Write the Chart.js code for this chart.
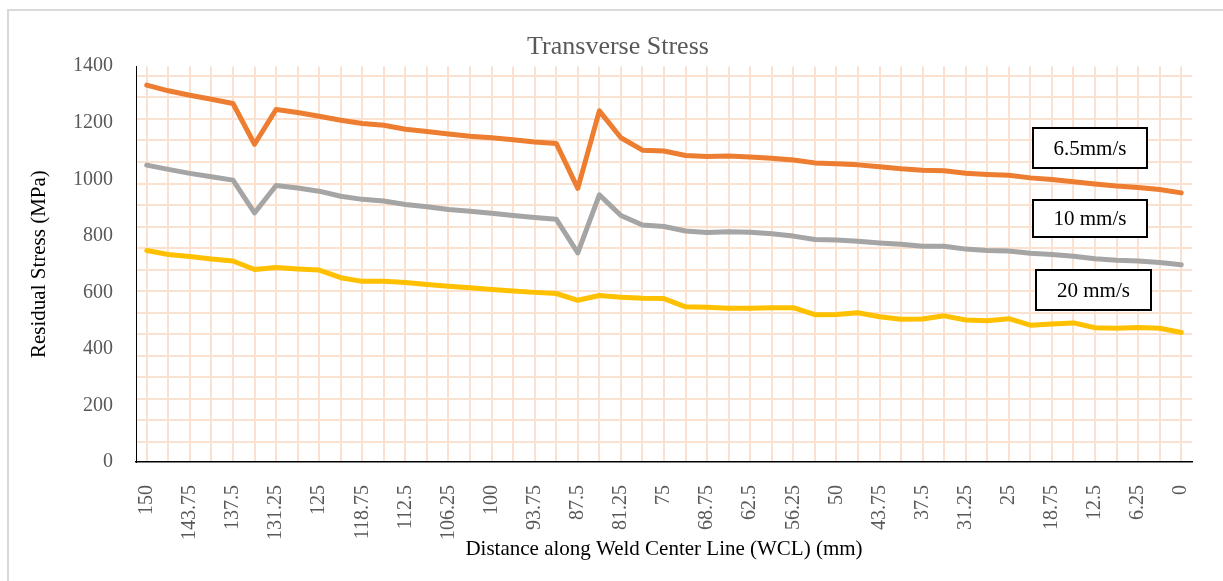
<!DOCTYPE html>
<html>
<head>
<meta charset="utf-8">
<script src="https://cdn.jsdelivr.net/npm/chart.js@4"></script>
<style>
  html, body { margin: 0; padding: 0; background: #fff; overflow: hidden; }
  #wrap { position: relative; width: 1223px; height: 581px; }
  #frame { position: absolute; left: 7px; top: 9px; width: 1400px; height: 800px; border: 2px solid #d9d9d9; box-sizing: border-box; }
  .tag { position: absolute; border: 2px solid #000; background: #fff; box-sizing: border-box;
         font-family: "Liberation Serif", "Times New Roman", serif; font-size: 21px; color: #000;
         display: flex; align-items: center; justify-content: center; }
</style>
</head>
<body>
<div id="wrap">
  <div id="frame"></div>
  <canvas id="chart"></canvas>
  <div class="tag" style="left:1032px;top:127px;width:116px;height:42px;">6.5mm/s</div>
  <div class="tag" style="left:1032px;top:199px;width:116px;height:39px;">10 mm/s</div>
  <div class="tag" style="left:1035px;top:269px;width:117px;height:42px;">20 mm/s</div>
</div>
<script>
// distance along weld centre line (mm), every 3.125 mm
const distances = [
  '150', '146.875', '143.75', '140.625', '137.5', '134.375', '131.25', '128.125', '125',
  '121.875', '118.75', '115.625', '112.5', '109.375', '106.25', '103.125', '100',
  '96.875', '93.75', '90.625', '87.5', '84.375', '81.25', '78.125', '75',
  '71.875', '68.75', '65.625', '62.5', '59.375', '56.25', '53.125', '50',
  '46.875', '43.75', '40.625', '37.5', '34.375', '31.25', '28.125', '25',
  '21.875', '18.75', '15.625', '12.5', '9.375', '6.25', '3.125', '0'
];

// labels actually printed under the axis
const tickLabels = [
  '150', '143.75', '137.5', '131.25', '125', '118.75', '112.5', '106.25', '100',
  '93.75', '87.5', '81.25', '75', '68.75', '62.5', '56.25', '50', '43.75',
  '37.5', '31.25', '25', '18.75', '12.5', '6.25', '0'
];

const yTicks = [0, 200, 400, 600, 800, 1000, 1200, 1400];

const speed65 = [
  1333, 1313, 1297, 1283, 1268, 1124, 1247, 1236, 1223, 1209, 1197, 1191, 1177,
  1169, 1160, 1152, 1147, 1140, 1132, 1127, 968, 1242, 1147, 1103, 1100,
  1084, 1081, 1082, 1079, 1074, 1068, 1058, 1055, 1051, 1044, 1037, 1032,
  1030, 1021, 1017, 1014, 1005, 999, 991, 983, 976, 971, 964, 952
];

const speed10 = [
  1050, 1035, 1021, 1009, 997, 881, 978, 969, 958, 940, 929, 923, 911,
  903, 893, 887, 880, 872, 865, 859, 740, 945, 872, 838, 833,
  817, 812, 814, 813, 807, 799, 787, 785, 781, 775, 770, 763,
  763, 753, 748, 746, 738, 734, 728, 719, 714, 711, 706, 698
];

const speed20 = [
  748, 734, 727, 718, 711, 681, 688, 683, 679, 652, 639, 639, 635,
  628, 622, 616, 610, 605, 600, 596, 572, 589, 583, 579, 578,
  549, 547, 544, 544, 546, 546, 521, 522, 528, 514, 505, 506,
  517, 502, 500, 507, 484, 488, 492, 475, 473, 476, 473, 458
];

const serif = '"Liberation Serif", "Times New Roman", serif';
const gridPeach = '#fbe1d0';

function series(label, data, color) {
  return {
    label: label,
    data: data,
    borderColor: color,
    backgroundColor: color,
    borderWidth: 5,
    pointRadius: 0,
    tension: 0,
    borderJoinStyle: 'round',
    borderCapStyle: 'round',
    yAxisID: 'y',
  };
}

new Chart(document.getElementById('chart'), {
  type: 'line',
  data: {
    labels: distances,
    datasets: [
      series('20 mm/s', speed20, '#ffc000'),
      series('10 mm/s', speed10, '#a5a5a5'),
      series('6.5mm/s', speed65, '#ed7d31'),
    ],
  },
  options: {
    responsive: true,
    maintainAspectRatio: false,
    animation: false,
    layout: { padding: { left: 13, right: 0, top: 0, bottom: 0 } },
    plugins: {
      legend: { display: false },
      tooltip: { enabled: false },
      title: {
        display: true,
        text: 'Transverse Stress',
        color: '#595959',
        font: { family: serif, size: 26, weight: 'normal' },
        padding: { top: 32, bottom: 3 },
      },
    },
    scales: {
      x: {
        offset: true,
        grid: { display: true, offset: false, color: gridPeach, lineWidth: 2, drawTicks: false },
        border: { display: true, color: '#000', width: 1.5 },
        ticks: {
          autoSkip: false,
          minRotation: 90,
          maxRotation: 90,
          padding: 23,
          color: '#595959',
          font: { family: serif, size: 20 },
          callback: function (value) {
            const lab = this.getLabelForValue(value);
            return tickLabels.includes(lab) ? lab : '';
          },
        },
        title: {
          display: true,
          text: 'Distance along Weld Center Line (WCL) (mm)',
          color: '#000',
          font: { family: serif, size: 21 },
          padding: { top: 0, bottom: 19 },
        },
        afterFit: (scale) => {
          scale.height = 119;
          scale.paddingLeft = 0;
          scale.paddingRight = 0;
        },
      },
      y: {
        position: 'left',
        min: yTicks[0],
        max: yTicks[yTicks.length - 1],
        afterBuildTicks: (scale) => { scale.ticks = yTicks.map((v) => ({ value: v })); },
        grid: { display: false, drawTicks: false },
        border: { display: true, color: '#000', width: 1 },
        ticks: {
          padding: 23,
          color: '#595959',
          font: { family: serif, size: 20 },
          callback: (value) => String(value),
        },
        title: {
          display: true,
          text: 'Residual Stress (MPa)',
          color: '#000',
          font: { family: serif, size: 21 },
          padding: { top: 14, bottom: 0 },
        },
        afterFit: (scale) => { scale.width = 123; },
      },
      // hidden axis that only carries the graph-paper horizontal lines
      paper: {
        position: 'right',
        min: -0.928,
        max: 17.448,
        grid: { display: true, color: gridPeach, lineWidth: 2, drawTicks: false },
        border: { display: false },
        ticks: { display: false, stepSize: 1, includeBounds: false },
        afterFit: (scale) => { scale.width = 31; },
      },
    },
  },
});
</script>
</body>
</html>
